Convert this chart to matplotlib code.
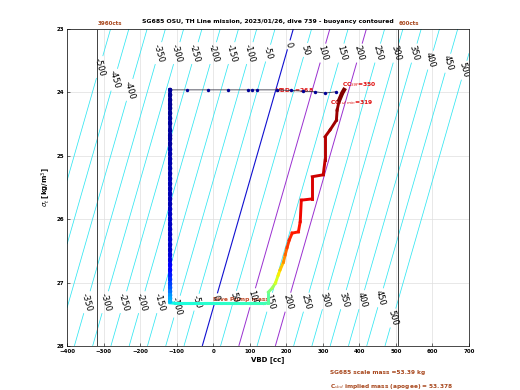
"""
SG685 dive 739: VBD vs sigma-t, buoyancy contoured
"""
import numpy as np
import matplotlib
matplotlib.use('Agg')
from matplotlib import pyplot as plt
from matplotlib.collections import LineCollection

# buoyancy model (neutral VBD at sigma_t=23, change per sigma unit, cc per gram)
vbd_neutral_23 = 219.0
vbd_per_sigma = -49.8
cc_per_g = 1.0

contour_levels = list(range(-500, 550, 50))
top_label_levels = [-500, -450, -400, -350, -300, -250, -200, -150, -100, -50, 0,
                    50, 100, 150, 200, 250, 300, 350, 400, 450, 500]
bot_label_levels = [-350, -300, -250, -200, -150, -100, -50, 0, 50, 100, 150,
                    200, 250, 300, 350, 400, 450, 500]

vbd_limits = [-317, 506]
vbd_limit_names = ['3960cts', '600cts']

# surface, start of dive (pump to dive VBD)
surf_vbd = [337, 306, 279, 246, 213, 175, 120, 107, 96, 41, -14, -71, -118]
surf_sigma = [23.99, 24.01, 23.99, 23.98, 23.97, 23.96, 23.96, 23.96, 23.96,
              23.96, 23.96, 23.96, 23.96]

# descent at constant VBD
descent_vbd = -118
desc_sigma = [23.96, 24.04, 24.12, 24.19, 24.25, 24.33, 24.41, 24.49, 24.60, 24.68,
              24.73, 24.81, 24.90, 24.97, 25.05, 25.12, 25.20, 25.28, 25.36, 25.44,
              25.52, 25.60, 25.68, 25.76, 25.84, 25.92, 26.00, 26.08, 26.16, 26.24,
              26.32, 26.40, 26.48, 26.56, 26.64, 26.72, 26.80, 26.88, 26.95, 27.02,
              27.08, 27.14, 27.20, 27.25, 27.30]
desc_t = [0.02, 0.02, 0.02, 0.02, 0.02, 0.02, 0.03, 0.03, 0.03, 0.03,
          0.03, 0.03, 0.04, 0.04, 0.04, 0.04, 0.04, 0.04, 0.05, 0.05,
          0.05, 0.05, 0.05, 0.05, 0.06, 0.06, 0.06, 0.06, 0.06, 0.06,
          0.07, 0.07, 0.07, 0.08, 0.09, 0.11, 0.13, 0.15, 0.17, 0.19,
          0.21, 0.24, 0.27, 0.29, 0.31]

# apogee pump
apo_vbd = [-118, -100, -80, -60, -40, -20, 0, 20, 40, 60, 80, 100, 120, 140, 151]
apo_sigma = [27.32, 27.33, 27.33, 27.33, 27.33, 27.33, 27.33, 27.33, 27.33, 27.33,
             27.33, 27.33, 27.33, 27.33, 27.32]
apo_t = [0.37, 0.38, 0.385, 0.39, 0.395, 0.40, 0.40, 0.405, 0.41, 0.41,
         0.415, 0.42, 0.425, 0.43, 0.44]

# climb
climb_vbd = [151, 151, 161, 170, 178, 183, 192, 197, 202, 208, 216, 233, 238, 241,
             271, 271, 301, 306, 306, 320, 337, 339, 345, 353, 358]
climb_sigma = [27.32, 27.15, 27.09, 27.01, 26.88, 26.80, 26.68, 26.56, 26.45, 26.33,
               26.22, 26.20, 26.04, 25.70, 25.68, 25.33, 25.30, 25.07, 24.70, 24.59,
               24.44, 24.28, 24.12, 24.01, 23.96]
climb_t = [0.46, 0.50, 0.55, 0.61, 0.66, 0.70, 0.76, 0.80, 0.85, 0.87,
           0.88, 0.89, 0.90, 0.91, 0.92, 0.93, 0.94, 0.95, 0.96, 0.97,
           0.975, 0.98, 0.99, 1.0, 1.0]

title = 'SG685 OSU, TH Line mission, 2023/01/26, dive 739 - buoyancy contoured'
brown = '#a8481e'
red = '#e01010'


def vbd_at(b, sigma):
    return vbd_neutral_23 + vbd_per_sigma * (np.asarray(sigma) - 23.0) + b * cc_per_g


def colored_path(ax, x, y, t, cmap, lw):
    pts = np.column_stack([x, y])
    segs = np.stack([pts[:-1], pts[1:]], axis=1)
    lc = LineCollection(segs, colors=cmap(np.asarray(t[:-1])), linewidths=lw,
                        capstyle='projecting', joinstyle='miter', zorder=4)
    ax.add_collection(lc)


def main():
    fig = plt.figure(figsize=(5.2, 3.9), dpi=100)
    ax = fig.add_axes([0.129, 0.113, 0.773, 0.8126])
    cmap = plt.get_cmap('jet')

    # buoyancy contours
    gx = np.linspace(-400, 700, 221)
    gy = np.linspace(23, 28, 101)
    X, Y = np.meshgrid(gx, gy)
    B = (X - vbd_at(0, Y)) / cc_per_g
    colors = []
    widths = []
    for lev in contour_levels:
        if lev == 0:
            colors.append('#1010d0')
            widths.append(0.8)
        elif lev in (100, 200):
            colors.append('#9a30d0')
            widths.append(0.7)
        else:
            colors.append('#30e6f2')
            widths.append(0.55)
    cs = ax.contour(X, Y, B, levels=contour_levels, colors=colors, linewidths=widths, zorder=2)

    top_sig = {-500: 23.60, -450: 23.80, -400: 23.96, -50: 23.38, 0: 23.25, 50: 23.33,
               400: 23.49, 450: 23.54, 500: 23.65}
    bot_sig = {-100: 27.38, 0: 27.24, 50: 27.24, 100: 27.24, 300: 27.27, 350: 27.27,
               400: 27.27, 450: 27.24, 500: 27.56}
    manual = []
    for lev in top_label_levels:
        s = top_sig.get(lev, 23.38)
        manual.append((float(vbd_at(lev, s)), s))
    for lev in bot_label_levels:
        s = bot_sig.get(lev, 27.31)
        manual.append((float(vbd_at(lev, s)), s))
    ax.clabel(cs, manual=manual, inline=True, inline_spacing=2, fontsize=6,
              fmt='%d', colors='k')

    # VBD limits
    for v, name in zip(vbd_limits, vbd_limit_names):
        ax.axvline(v, color='#404040', lw=0.7, zorder=3)
        ax.text(v, 22.96, name, color=brown, fontsize=4, fontweight='bold',
                ha='left', va='bottom', clip_on=False)

    # dive trajectory
    ax.plot(surf_vbd, surf_sigma, color='#3a3a4a', lw=0.6, zorder=4)
    ax.scatter(surf_vbd, surf_sigma, s=6, color=cmap(0.02), zorder=5, linewidths=0)
    desc_x = [descent_vbd] * len(desc_sigma)
    colored_path(ax, desc_x, desc_sigma, desc_t, cmap, 2.6)
    ax.scatter(desc_x, desc_sigma, s=10, c=cmap(np.asarray(desc_t)), zorder=5, linewidths=0)
    colored_path(ax, apo_vbd, apo_sigma, apo_t, cmap, 2.2)
    colored_path(ax, climb_vbd, climb_sigma, climb_t, cmap, 2.1)
    ax.plot(climb_vbd[-3:], climb_sigma[-3:], color=cmap(1.0), lw=3.0, zorder=5)

    # annotations
    ax.text(353, 23.90, r'CC$_{SM}$=350', color=red, fontsize=4.3, fontweight='bold')
    ax.text(320, 24.18, r'CC$_{suf\ min}$=319', color=red, fontsize=4.3, fontweight='bold')
    ax.text(170, 24.00, r'VBD$_{lm}$=268', color=red, fontsize=4.3, fontweight='bold')
    ax.text(0, 27.29, 'Dive Pump mass', color='#c04a28', fontsize=4.3, fontweight='bold')

    ax.set_xlim(-400, 700)
    ax.set_ylim(28, 23)
    ax.set_xticks(range(-400, 800, 100))
    ax.set_yticks(range(23, 29))
    ax.grid(True, color='#dedede', lw=0.5)
    ax.set_axisbelow(True)
    ax.tick_params(labelsize=4, direction='in', length=2, width=0.4, pad=2)
    for lab in ax.get_xticklabels() + ax.get_yticklabels():
        lab.set_fontweight('bold')
    for sp in ax.spines.values():
        sp.set_linewidth(0.5)
    ax.set_xlabel('VBD [cc]', fontsize=5, fontweight='bold', labelpad=2)
    ax.set_ylabel(r'$\sigma_t$ [kg/m$^3$]', fontsize=5, fontweight='bold', labelpad=3)
    ax.set_title(title, fontsize=4.4, fontweight='bold', pad=4)

    fig.text(0.635, 0.040, 'SG685 scale mass =53.39 kg', color=brown, fontsize=4.2,
             fontweight='bold')
    fig.text(0.635, 0.004, r'C$_{vbd}$ implied mass (apogee) = 53.378', color=brown,
             fontsize=4.2, fontweight='bold')

    fig.savefig('out.png', dpi=100)


if __name__ == '__main__':
    main()
